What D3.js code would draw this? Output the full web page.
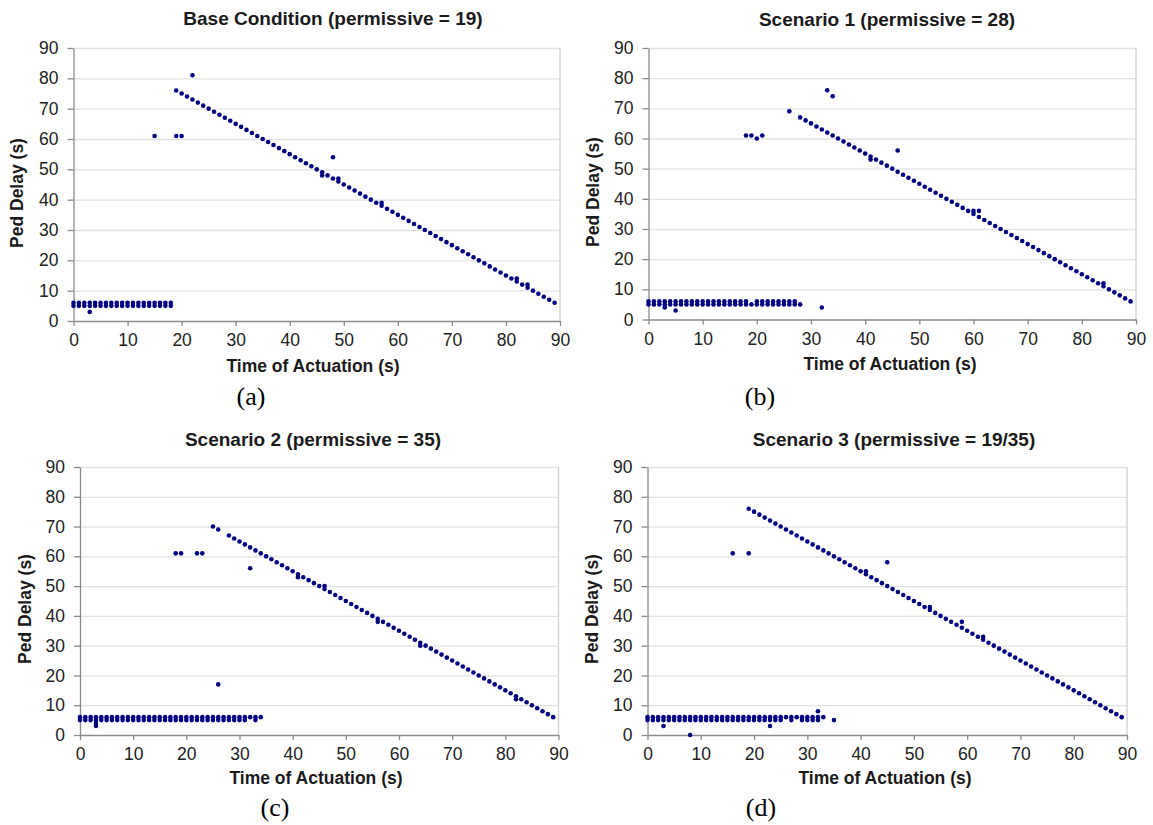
<!DOCTYPE html>
<html>
<head>
<meta charset="utf-8">
<script src="https://cdn.jsdelivr.net/npm/d3@7"></script>
<style>
  body { margin: 0; background: #fff; }
</style>
</head>
<body>
<script>
// tick values shared by every panel
const xTicks = [0, 10, 20, 30, 40, 50, 60, 70, 80, 90];
const yTicks = [0, 10, 20, 30, 40, 50, 60, 70, 80, 90];

const titles = ["Base Condition (permissive = 19)", "Scenario 1 (permissive = 28)",
  "Scenario 2 (permissive = 35)", "Scenario 3 (permissive = 19/35)"];
const captions = ["(a)", "(b)", "(c)", "(d)"];

// [time of actuation, ped delay]
const basePts = [
  [0,5],[0,6],[1,5],[1,6],[2,5],[2,6],[3,5],[3,6],[3,3],[4,5],[4,6],[5,5],[5,6],[6,5],[6,6],
  [7,5],[7,6],[8,5],[8,6],[9,5],[9,6],[10,5],[10,6],[11,5],[11,6],[12,5],[12,6],[13,5],[13,6],
  [14,5],[14,6],[15,5],[15,6],[16,5],[16,6],[17,5],[17,6],[18,5],[18,6],
  [15,61],[19,61],[20,61],[22,81],[48,54],
  [19,76],[20,75],[21,74],[22,73],[23,72],[24,71],[25,70],[26,69],[27,68],[28,67],[29,66],
  [30,65],[31,64],[32,63],[33,62],[34,61],[35,60],[36,59],[37,58],[38,57],[39,56],[40,55],
  [41,54],[42,53],[43,52],[44,51],[45,50],[46,49],[46,48],[47,48],[48,47],[49,46],[49,47],
  [50,45],[51,44],[52,43],[53,42],[54,41],[55,40],[56,39],[57,38],[57,39],[58,37],[59,36],
  [60,35],[61,34],[62,33],[63,32],[64,31],[65,30],[66,29],[67,28],[68,27],[69,26],[70,25],
  [71,24],[72,23],[73,22],[74,21],[75,20],[76,19],[77,18],[78,17],[79,16],[80,15],[81,14],
  [82,13],[82,14],[83,12],[84,11],[84,12],[85,10],[86,9],[87,8],[88,7],[89,6]
];

const scen1Pts = [
  [0,5],[0,6],[1,5],[1,6],[2,5],[2,6],[3,4],[3,5],[3,6],[4,5],[4,6],[5,5],[5,6],[5,3],[6,5],[6,6],
  [7,5],[7,6],[8,5],[8,6],[9,5],[9,6],[10,5],[10,6],[11,5],[11,6],[12,5],[12,6],[13,5],[13,6],
  [14,5],[14,6],[15,5],[15,6],[16,5],[16,6],[17,5],[17,6],[18,5],[18,6],[19,5],[20,5],[20,6],
  [21,5],[21,6],[22,5],[22,6],[23,5],[23,6],[24,5],[24,6],[25,5],[25,6],[26,5],[26,6],
  [27,5],[27,6],[28,5],[32,4],
  [18,61],[19,61],[20,60],[21,61],[26,69],[33,76],[34,74],[46,56],
  [28,67],[29,66],[30,65],[31,64],[32,63],[33,62],[34,61],[35,60],[36,59],[37,58],[38,57],
  [39,56],[40,55],[41,54],[41,53],[42,53],[43,52],[44,51],[45,50],[46,49],[47,48],[48,47],
  [49,46],[50,45],[51,44],[52,43],[53,42],[54,41],[55,40],[56,39],[57,38],[58,37],[59,36],
  [60,35],[60,36],[61,34],[61,36],[62,33],[63,32],[64,31],[65,30],[66,29],[67,28],[68,27],
  [69,26],[70,25],[71,24],[72,23],[73,22],[74,21],[75,20],[76,19],[77,18],[78,17],[79,16],
  [80,15],[81,14],[82,13],[83,12],[84,11],[84,12],[85,10],[86,9],[87,8],[88,7],[89,6]
];

const scen2Pts = [
  [0,5],[0,6],[1,5],[1,6],[2,5],[2,6],[3,3],[3,4],[3,5],[3,6],[4,5],[4,6],[5,5],[5,6],[6,5],[6,6],
  [7,5],[7,6],[8,5],[8,6],[9,5],[9,6],[10,5],[10,6],[11,5],[11,6],[12,5],[12,6],[13,5],[13,6],
  [14,5],[14,6],[15,5],[15,6],[16,5],[16,6],[17,5],[17,6],[18,5],[18,6],[19,5],[19,6],
  [20,5],[20,6],[21,5],[21,6],[22,5],[22,6],[23,5],[23,6],[24,5],[24,6],[25,5],[25,6],
  [26,5],[26,6],[27,5],[27,6],[28,5],[28,6],[29,5],[29,6],[30,5],[30,6],[31,5],[31,6],
  [32,6],[33,5],[33,6],[34,6],
  [18,61],[19,61],[22,61],[23,61],[25,70],[26,69],[26,17],[32,56],
  [28,67],[29,66],[30,65],[31,64],[32,63],[33,62],[34,61],[35,60],[36,59],[37,58],[38,57],
  [39,56],[40,55],[41,54],[41,53],[42,53],[43,52],[44,51],[45,50],[46,49],[46,50],[47,48],
  [48,47],[49,46],[50,45],[51,44],[52,43],[53,42],[54,41],[55,40],[56,39],[56,38],[57,38],
  [58,37],[59,36],[60,35],[61,34],[62,33],[63,32],[64,31],[64,30],[65,30],[66,29],[67,28],
  [68,27],[69,26],[70,25],[71,24],[72,23],[73,22],[74,21],[75,20],[76,19],[77,18],[78,17],
  [79,16],[80,15],[81,14],[82,13],[82,12],[83,12],[84,11],[85,10],[86,9],[87,8],[88,7],[89,6]
];

const scen3Pts = [
  [0,5],[0,6],[1,5],[1,6],[2,5],[2,6],[3,5],[3,6],[3,3],[4,5],[4,6],[5,5],[5,6],[6,5],[6,6],
  [7,5],[7,6],[8,5],[8,6],[8,0],[9,5],[9,6],[10,5],[10,6],[11,5],[11,6],[12,5],[12,6],
  [13,5],[13,6],[14,5],[14,6],[15,5],[15,6],[16,5],[16,6],[17,5],[17,6],[18,5],[18,6],
  [19,5],[19,6],[20,5],[20,6],[21,5],[21,6],[22,5],[22,6],[23,5],[23,6],[23,3],[24,5],[24,6],
  [25,5],[25,6],[26,6],[27,5],[27,6],[28,6],[29,5],[29,6],[30,5],[30,6],[31,5],[31,6],
  [32,5],[32,6],[32,8],[33,6],[35,5],
  [16,61],[19,61],[45,58],
  [19,76],[20,75],[21,74],[22,73],[23,72],[24,71],[25,70],[26,69],[27,68],[28,67],[29,66],
  [30,65],[31,64],[32,63],[33,62],[34,61],[35,60],[36,59],[37,58],[38,57],[39,56],[40,55],
  [41,54],[41,55],[42,53],[43,52],[44,51],[45,50],[46,49],[47,48],[48,47],[49,46],[50,45],
  [51,44],[52,43],[53,42],[53,43],[54,41],[55,40],[56,39],[57,38],[58,37],[59,36],[59,38],
  [60,35],[61,34],[62,33],[63,32],[63,33],[64,31],[65,30],[66,29],[67,28],[68,27],[69,26],
  [70,25],[71,24],[72,23],[73,22],[74,21],[75,20],[76,19],[77,18],[78,17],[79,16],[80,15],
  [81,14],[82,13],[83,12],[84,11],[85,10],[86,9],[87,8],[88,7],[89,6]
];

const allPts = [basePts, scen1Pts, scen2Pts, scen3Pts];

// panel geometry: plot box and text anchors
const layout = [
  { x0: 73.5, x1: 560, y0: 321, y1: 48, tx: 333, ty: 25, ax: 313, ay: 372, yx: 23, yy: 193, cx: 251, cy: 405 },
  { x0: 648.5, x1: 1136, y0: 319.5, y1: 48, tx: 887, ty: 26, ax: 890, ay: 370, yx: 599, yy: 192, cx: 760, cy: 405 },
  { x0: 80, x1: 558.5, y0: 735, y1: 467, tx: 313, ty: 446, ax: 316, ay: 784, yx: 31, yy: 609, cx: 275, cy: 816 },
  { x0: 647.5, x1: 1127, y0: 735, y1: 467, tx: 894, ty: 446, ax: 885, ay: 784, yx: 598, yy: 609, cx: 761, cy: 816 }
];

const W = 1153, H = 825;
const sans = "'Liberation Sans', Arial, sans-serif";
const svg = d3.select("body").append("svg").attr("width", W).attr("height", H)
  .attr("font-family", sans);
svg.append("rect").attr("width", W).attr("height", H).attr("fill", "#fff");

layout.forEach((L, i) => {
  const x = d3.scaleLinear().domain([0, 90]).range([L.x0, L.x1]);
  const y = d3.scaleLinear().domain([0, 90]).range([L.y0, L.y1]);
  const g = svg.append("g");

  // gridlines
  g.append("g").attr("transform", "translate(" + L.x0 + ",0)")
    .call(d3.axisLeft(y).tickValues(yTicks.slice(1)).tickSize(-(L.x1 - L.x0)).tickFormat(""))
    .call(s => s.select(".domain").remove())
    .call(s => s.selectAll("line").attr("stroke", "#e2e2e2").attr("stroke-width", 1.3));
  // right border
  g.append("line").attr("x1", L.x1).attr("x2", L.x1).attr("y1", L.y1).attr("y2", L.y0)
    .attr("stroke", "#d0d0d0").attr("stroke-width", 1.3);

  const yAx = g.append("g").attr("transform", "translate(" + L.x0 + ",0)")
    .call(d3.axisLeft(y).tickValues(yTicks).tickSize(6).tickPadding(9).tickSizeOuter(0));
  const xAx = g.append("g").attr("transform", "translate(0," + L.y0 + ")")
    .call(d3.axisBottom(x).tickValues(xTicks).tickSize(5).tickPadding(8).tickSizeOuter(0));
  [yAx, xAx].forEach(a => {
    a.selectAll(".domain, line").attr("stroke", "#8a8a8a").attr("stroke-width", 1.3);
    a.selectAll("text").attr("font-size", 17.5).attr("fill", "#222").attr("font-family", sans);
  });

  g.selectAll("circle.pt").data(allPts[i]).enter().append("circle")
    .attr("class", "pt")
    .attr("cx", d => x(d[0]))
    .attr("cy", d => y(d[1]))
    .attr("r", 2.3)
    .attr("fill", "#000080");

  g.append("text").attr("x", L.tx).attr("y", L.ty).attr("text-anchor", "middle")
    .attr("font-size", 19).attr("font-weight", "bold").attr("fill", "#1a1a1a").text(titles[i]);
  g.append("text").attr("x", L.ax).attr("y", L.ay).attr("text-anchor", "middle")
    .attr("font-size", 17.5).attr("font-weight", "bold").attr("fill", "#1a1a1a").text("Time of Actuation (s)");
  g.append("text").attr("transform", "translate(" + L.yx + "," + L.yy + ") rotate(-90)")
    .attr("text-anchor", "middle").attr("font-size", 17.5).attr("font-weight", "bold")
    .attr("fill", "#1a1a1a").text("Ped Delay (s)");
  g.append("text").attr("x", L.cx).attr("y", L.cy).attr("text-anchor", "middle")
    .attr("font-family", "'Liberation Serif', 'Times New Roman', serif")
    .attr("font-size", 26).attr("fill", "#000").text(captions[i]);
});
</script>
</body>
</html>
